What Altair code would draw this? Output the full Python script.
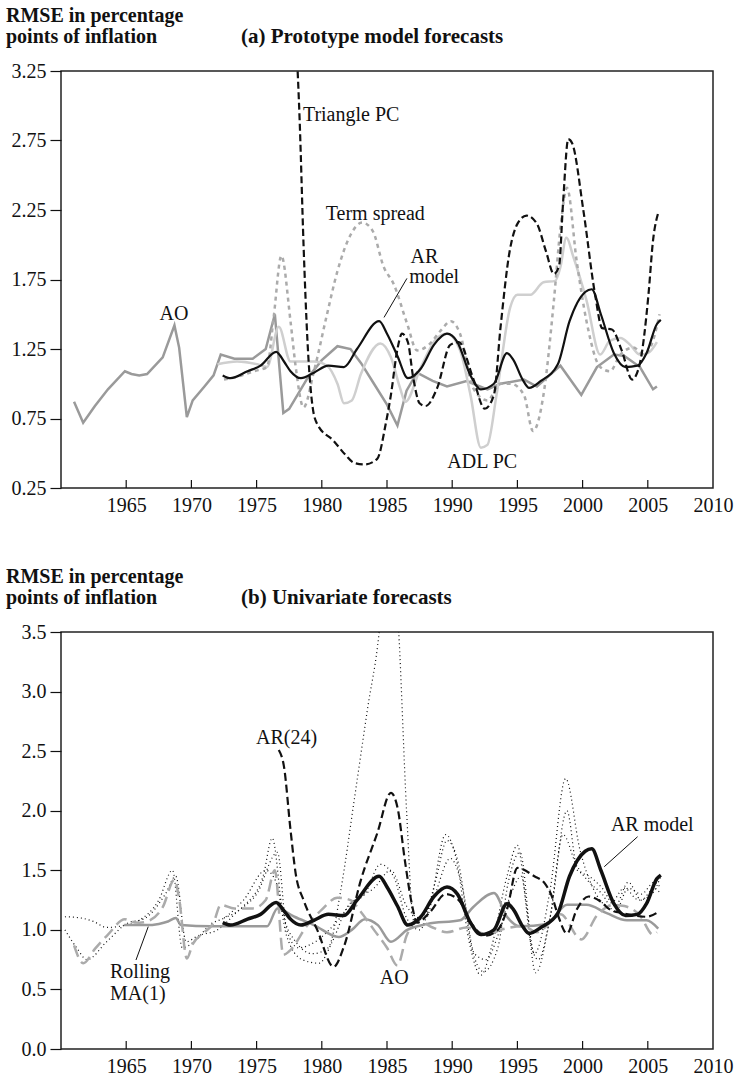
import altair as alt
import pandas as pd

FONT = "Liberation Serif"
W, H = 652, 417

# ---------------- Panel (a): prototype model forecasts ----------------
AO_YEARS = [1961.0, 1961.7, 1962.6, 1963.6, 1964.9, 1965.4, 1966.0, 1966.6, 1967.8, 1968.7,
            1969.06, 1969.65, 1970.1, 1971.0, 1971.7, 1972.25, 1973.3, 1974.7, 1975.7, 1976.4,
            1977.05, 1977.5, 1978.9, 1980.0, 1981.2, 1982.2, 1983.0, 1984.0, 1985.0, 1985.8,
            1986.5, 1987.3, 1988.5, 1989.6, 1991.1, 1992.7, 1993.7, 1995.5, 1996.5, 1998.3,
            1999.9, 2001.1, 2002.4, 2003.2, 2004.4, 2005.4, 2005.7]
AO_VALUES = [0.87, 0.72, 0.84, 0.96, 1.09, 1.07, 1.06, 1.07, 1.19, 1.42,
             1.26, 0.76, 0.88, 0.98, 1.06, 1.21, 1.18, 1.18, 1.25, 1.50,
             0.79, 0.82, 1.04, 1.17, 1.27, 1.25, 1.15, 1.00, 0.85, 0.70,
             0.95, 1.08, 1.02, 0.98, 1.02, 0.96, 1.00, 1.03, 0.98, 1.13,
             0.92, 1.12, 1.21, 1.20, 1.12, 0.96, 0.98]

AR_YEARS = [1972.4, 1973.0, 1974.3, 1975.3, 1976.5, 1977.1, 1977.6, 1978.4, 1979.4, 1980.5,
            1981.7, 1982.7, 1984.4, 1985.0, 1985.8, 1986.6, 1987.6, 1988.6, 1989.6, 1990.4,
            1991.4, 1992.2, 1993.2, 1994.2, 1994.7, 1995.4, 1995.9, 1996.8, 1998.1, 1999.0,
            2000.2, 2000.7, 2001.4, 2002.4, 2003.3, 2004.2, 2004.9, 2005.7, 2006.0]
AR_VALUES = [1.06, 1.04, 1.09, 1.13, 1.23, 1.16, 1.09, 1.04, 1.08, 1.13,
             1.12, 1.25, 1.45, 1.36, 1.20, 1.04, 1.11, 1.28, 1.36, 1.30,
             1.06, 0.96, 1.00, 1.22, 1.17, 1.03, 0.97, 1.02, 1.14, 1.45,
             1.66, 1.68, 1.50, 1.22, 1.12, 1.13, 1.22, 1.43, 1.46]

TRI_YEARS = [1977.9, 1978.3, 1978.6, 1978.9, 1979.3, 1979.65, 1980.9, 1981.8, 1982.5, 1983.3,
             1984.25, 1984.9, 1985.3, 1985.8, 1986.15, 1986.6, 1987.0, 1987.5, 1987.95, 1988.85,
             1989.85, 1990.5, 1991.6, 1992.5, 1993.2, 1993.7, 1994.4, 1995.0, 1995.7, 1996.5,
             1997.2, 1997.8, 1998.2, 1998.5, 1998.9, 1999.2, 2000.07, 2000.96, 2001.5, 2002.25,
             2003.0, 2003.8, 2004.4, 2005.05, 2005.4, 2005.8]
TRI_VALUES = [3.70, 2.90, 2.00, 1.31, 0.83, 0.71, 0.59, 0.49, 0.43, 0.42,
              0.46, 0.71, 0.92, 1.25, 1.36, 1.30, 1.05, 0.86, 0.84, 0.97,
              1.28, 1.30, 1.04, 0.82, 0.92, 1.40, 1.95, 2.15, 2.21, 2.15,
              1.95, 1.79, 1.85, 2.30, 2.76, 2.73, 2.24, 1.64, 1.40, 1.39,
              1.24, 1.03, 1.15, 1.64, 2.03, 2.23]

TERM_YEARS = [1972.5, 1973.5, 1974.8, 1975.8, 1976.3, 1976.9, 1977.6, 1978.0, 1978.6, 1979.4,
              1980.4, 1981.2, 1982.2, 1983.1, 1983.9, 1984.75, 1985.5, 1986.55, 1987.3, 1988.2,
              1989.1, 1989.9, 1990.6, 1991.6, 1992.7, 1993.7, 1994.5, 1995.5, 1996.2, 1997.0,
              1997.8, 1998.3, 1998.8, 1999.55, 2000.3, 2001.35, 2002.1, 2002.9, 2003.9, 2004.7,
              2005.4, 2005.9]
TERM_VALUES = [1.03, 1.05, 1.09, 1.12, 1.47, 1.92, 1.45, 1.12, 0.83, 1.09,
               1.50, 1.81, 2.07, 2.16, 2.10, 1.84, 1.72, 1.43, 1.24, 1.28,
               1.38, 1.45, 1.36, 0.97, 0.88, 1.00, 1.00, 0.92, 0.66, 0.92,
               1.60, 2.12, 2.41, 1.88, 1.45, 1.12, 1.09, 1.21, 1.26, 1.21,
               1.31, 1.50]

ADL_YEARS = [1972.0, 1973.5, 1975.05, 1975.8, 1976.7, 1977.6, 1978.4, 1979.4, 1980.4, 1981.2,
             1981.7, 1982.3, 1983.0, 1984.5, 1985.3, 1986.0, 1986.4, 1987.6, 1988.85, 1989.6,
             1990.6, 1991.4, 1992.2, 1992.7, 1993.4, 1994.45, 1995.0, 1996.0, 1997.0, 1997.9,
             1998.3, 1998.75, 1999.3, 2000.3, 2001.35, 2002.1, 2002.9, 2003.65, 2004.4, 2005.0,
             2005.7]
ADL_VALUES = [1.14, 1.16, 1.14, 1.12, 1.41, 1.16, 1.16, 1.16, 1.13, 1.00,
              0.86, 0.88, 1.07, 1.29, 1.19, 0.97, 0.87, 1.12, 1.33, 1.36,
              1.24, 0.92, 0.54, 0.56, 0.92, 1.55, 1.64, 1.64, 1.73, 1.74,
              1.84, 2.05, 1.91, 1.60, 1.21, 1.31, 1.33, 1.28, 1.21, 1.22,
              1.30]

# ---------------- Panel (b): univariate forecasts ----------------
MA1_YEARS = [1964.85, 1966.5, 1967.5, 1968.2, 1968.8, 1969.2, 1971.5, 1973.5, 1975.8, 1976.6,
             1977.9, 1979.4, 1981.3, 1982.3, 1983.3, 1984.3, 1985.3, 1986.55, 1988.1, 1990.6,
             1991.6, 1993.2, 1994.2, 1995.2, 1997.3, 1998.8, 2000.3, 2001.85, 2003.4, 2004.9,
             2005.8]
MA1_VALUES = [1.04, 1.04, 1.05, 1.07, 1.10, 1.04, 1.03, 1.03, 1.03, 1.18,
              1.11, 1.04, 0.94, 1.00, 1.09, 1.04, 0.90, 1.00, 1.05, 1.08,
              1.19, 1.31, 1.11, 1.03, 1.05, 1.21, 1.21, 1.14, 1.08, 1.08,
              1.01]

AR24_YEARS = [1976.7, 1977.1, 1977.6, 1978.0, 1978.6, 1979.65, 1980.9, 1981.7, 1983.0, 1984.25,
              1985.3, 1985.8, 1986.4, 1986.9, 1987.3, 1988.3, 1989.5, 1990.5, 1991.5, 1992.5,
              1993.5, 1994.2, 1995.0, 1996.3, 1997.1, 1997.65, 1998.15, 1998.8, 1999.55, 2000.45,
              2001.35, 2002.1, 2003.1, 2004.9, 2005.8]
AR24_VALUES = [2.51, 2.37, 1.84, 1.47, 1.25, 1.00, 0.69, 0.86, 1.42, 1.81,
               2.15, 2.03, 1.56, 1.22, 1.06, 1.15, 1.30, 1.25, 1.05, 0.95,
               1.00, 1.17, 1.52, 1.45, 1.39, 1.28, 1.11, 0.97, 1.17, 1.28,
               1.24, 1.17, 1.14, 1.11, 1.15]

DOT1_YEARS = [1972.5, 1974.0, 1975.5, 1976.2, 1977.0, 1978.0, 1979.3, 1980.5, 1981.45, 1982.5,
              1983.5, 1984.4, 1985.15, 1985.9, 1986.5, 1987.05, 1988.0, 1989.5, 1990.3, 1991.3,
              1992.2, 1993.0, 1994.2, 1995.0, 1995.7, 1996.3, 1997.5, 1998.7, 1999.8, 2000.8,
              2002.0, 2003.2, 2004.3, 2005.3, 2006.0]
DOT1_VALUES = [1.10, 1.20, 1.45, 1.77, 1.15, 0.90, 0.80, 0.85, 1.33, 2.10,
               2.85, 3.50, 4.50, 3.50, 2.00, 1.08, 1.10, 1.80, 1.60, 0.90,
               0.62, 0.85, 1.45, 1.71, 1.20, 0.80, 1.33, 2.27, 1.67, 1.35,
               1.20, 1.35, 1.25, 1.30, 1.45]

DOT2_YEARS = [1960.3, 1961.5, 1962.5, 1963.5, 1964.5, 1966.0, 1967.5, 1968.55, 1969.3, 1970.2,
              1971.5, 1972.5, 1974.0, 1975.7, 1976.5, 1977.3, 1978.5, 1979.8, 1980.8, 1982.0,
              1983.3, 1984.5, 1985.5, 1986.5, 1987.5, 1988.7, 1989.6, 1990.5, 1991.5, 1992.4,
              1993.5, 1994.3, 1995.2, 1996.4, 1997.5, 1998.5, 1999.5, 2000.5, 2001.5, 2002.5,
              2003.5, 2004.5, 2005.5, 2006.0]
DOT2_VALUES = [1.11, 1.10, 1.07, 1.02, 1.03, 1.08, 1.25, 1.50, 0.85, 0.90,
               1.05, 1.10, 1.25, 1.50, 1.40, 0.95, 0.75, 0.72, 0.90, 1.20,
               1.30, 1.55, 1.45, 1.10, 1.00, 1.40, 1.75, 1.55, 0.85, 0.65,
               0.85, 1.40, 1.65, 0.64, 1.10, 1.80, 1.55, 1.40, 1.30, 1.15,
               1.35, 1.30, 1.40, 1.35]

DOT3_YEARS = [1960.3, 1961.2, 1962.0, 1963.5, 1965.0, 1966.5, 1968.0, 1968.8, 1969.6, 1970.5,
              1972.0, 1973.5, 1975.0, 1976.6, 1977.3, 1978.2, 1979.5, 1981.0, 1982.5, 1984.0,
              1985.3, 1986.5, 1987.5, 1988.5, 1989.85, 1990.8, 1991.7, 1992.6, 1993.5, 1994.5,
              1995.3, 1996.0, 1996.6, 1997.5, 1998.8, 1999.6, 2000.5, 2001.5, 2002.5, 2003.5,
              2004.5, 2005.5, 2006.0]
DOT3_VALUES = [1.00, 0.85, 0.75, 0.90, 1.05, 1.10, 1.30, 1.45, 0.90, 0.95,
               1.00, 1.15, 1.30, 1.65, 1.00, 0.85, 0.90, 1.05, 1.25, 1.35,
               1.50, 1.20, 1.10, 1.25, 1.60, 1.35, 0.80, 0.75, 0.95, 1.30,
               1.45, 0.90, 0.75, 1.10, 2.00, 1.50, 1.45, 1.35, 1.20, 1.40,
               1.25, 1.35, 1.30]

# ---------------- Axes ----------------
X_LABELS = [1965, 1970, 1975, 1980, 1985, 1990, 1995, 2000, 2005, 2010]
X_TICKS = [1965, 1970, 1975, 1980, 1985, 1990, 1995, 2000, 2005]
YA_TICKS = [0.25, 0.75, 1.25, 1.75, 2.25, 2.75, 3.25]
YB_TICKS = [0.0, 0.5, 1.0, 1.5, 2.0, 2.5, 3.0, 3.5]

# ---------------- Annotations ----------------
ANN_A_LEFT = [("Triangle PC", 1978.55, 2.93), ("Term spread", 1980.3, 2.22),
              ("AR", 1986.8, 1.915), ("model", 1986.7, 1.765)]
ANN_A_CENTER = [("AO", 1968.67, 1.50), ("ADL PC", 1992.3, 0.44)]
LEADER_A = [(1984.77, 1.477, 1986.53, 1.758)]

ANN_B_LEFT = [("AR(24)", 1974.95, 2.61), ("Rolling", 1963.76, 0.65), ("MA(1)", 1963.76, 0.46),
              ("AR model", 2002.17, 1.88)]
ANN_B_CENTER = [("AO", 1985.55, 0.60)]
LEADER_B = [(1966.69, 1.027, 1965.75, 0.747), (2004.22, 1.782, 2001.66, 1.53)]

TXT = 20        # annotation / tick label size
TTL = 20        # y-title size
PTL = 21        # panel title size


def make_x():
    return alt.X("year:Q", scale=alt.Scale(domain=[1960, 2010], nice=False, zero=False),
                 axis=alt.Axis(values=X_LABELS, ticks=False, domain=False, grid=False,
                               labelFont=FONT, labelFontSize=TXT, labelColor="#111",
                               labelPadding=7, labelFlush=False, format="d"),
                 title=None)


def make_y(domain, ticks, fmt):
    return alt.Y("value:Q", scale=alt.Scale(domain=domain, nice=False, zero=False),
                 axis=alt.Axis(values=ticks, tickSize=11, tickColor="#111", tickWidth=1.2,
                               domain=False, grid=False, labelFont=FONT, labelFontSize=TXT,
                               labelColor="#111", labelPadding=4, format=fmt),
                 title=None)


def series(years, vals, color, width, dash=None, interp="monotone"):
    df = pd.DataFrame({"year": years, "value": vals})
    kw = dict(color=color, strokeWidth=width, interpolate=interp, clip=True)
    if dash:
        kw["strokeDash"] = dash
    return df, kw


def panel(lines, y_dom, y_ticks, y_fmt, ann_left, ann_center, leaders, title_text):
    X = make_x()
    Y = make_y(y_dom, y_ticks, y_fmt)
    layers = []
    for df, kw in lines:
        layers.append(alt.Chart(df).mark_line(**kw).encode(x=X, y=Y))
    tick_df = pd.DataFrame({"year": X_TICKS})
    layers.append(alt.Chart(tick_df).mark_rule(color="#111", strokeWidth=1.2).encode(
        x=alt.X("year:Q"), y=alt.value(H - 8), y2=alt.value(H)))
    lead_df = pd.DataFrame(leaders, columns=["year", "value", "year2", "value2"])
    layers.append(alt.Chart(lead_df).mark_rule(color="#111", strokeWidth=1).encode(
        x=alt.X("year:Q"), y=alt.Y("value:Q"), x2="year2:Q", y2="value2:Q"))
    al = pd.DataFrame(ann_left, columns=["label", "year", "value"])
    layers.append(alt.Chart(al).mark_text(align="left", baseline="middle", font=FONT,
                                          fontSize=TXT, color="#111").encode(
        x=alt.X("year:Q"), y=alt.Y("value:Q"), text="label:N"))
    ac = pd.DataFrame(ann_center, columns=["label", "year", "value"])
    layers.append(alt.Chart(ac).mark_text(align="center", baseline="middle", font=FONT,
                                          fontSize=TXT, color="#111").encode(
        x=alt.X("year:Q"), y=alt.Y("value:Q"), text="label:N"))
    one = pd.DataFrame({"k": [0]})
    layers.append(alt.Chart(one).mark_text(text="RMSE in percentage", align="left",
                                           baseline="alphabetic", font=FONT, fontSize=TTL,
                                           fontWeight="bold", color="#111").encode(
        x=alt.value(-55), y=alt.value(-49)))
    layers.append(alt.Chart(one).mark_text(text="points of inflation", align="left",
                                           baseline="alphabetic", font=FONT, fontSize=TTL,
                                           fontWeight="bold", color="#111").encode(
        x=alt.value(-55), y=alt.value(-28)))
    layers.append(alt.Chart(one).mark_text(text=title_text, align="left",
                                           baseline="alphabetic", font=FONT, fontSize=PTL,
                                           fontWeight="bold", color="#111").encode(
        x=alt.value(180), y=alt.value(-28)))
    return alt.layer(*layers).properties(width=W, height=H)


lines_a = [
    series(AO_YEARS, AO_VALUES, "#9a9a9a", 2.5, interp="linear"),
    series(ADL_YEARS, ADL_VALUES, "#cfcfcf", 2.5),
    series(TERM_YEARS, TERM_VALUES, "#ababab", 2.5, dash=[4, 4]),
    series(TRI_YEARS, TRI_VALUES, "#111111", 2.2, dash=[7, 3.5]),
    series(AR_YEARS, AR_VALUES, "#111111", 2.2),
]

lines_b = [
    series(DOT1_YEARS, DOT1_VALUES, "#111111", 1.2, dash=[1, 3]),
    series(DOT2_YEARS, DOT2_VALUES, "#111111", 1.2, dash=[1, 3]),
    series(DOT3_YEARS, DOT3_VALUES, "#111111", 1.2, dash=[1, 3]),
    series(MA1_YEARS, MA1_VALUES, "#9a9a9a", 2.5),
    series(AO_YEARS, AO_VALUES, "#ababab", 2.5, dash=[12, 6]),
    series(AR24_YEARS, AR24_VALUES, "#111111", 2.2, dash=[8, 4]),
    series(AR_YEARS, AR_VALUES, "#111111", 3.5),
]

pa = panel(lines_a, [0.25, 3.25], YA_TICKS, ".2f", ANN_A_LEFT, ANN_A_CENTER, LEADER_A,
           "(a) Prototype model forecasts")
pb = panel(lines_b, [0.0, 3.5], YB_TICKS, ".1f", ANN_B_LEFT, ANN_B_CENTER, LEADER_B,
           "(b) Univariate forecasts")

chart = alt.vconcat(pa, pb, spacing=50).properties(
    padding={"left": 5, "top": 5, "right": 0, "bottom": 5},
    background="white",
).configure_view(stroke="#222", strokeWidth=1.5)

chart.save("out.html", embed_options={"renderer": "svg", "actions": False})
